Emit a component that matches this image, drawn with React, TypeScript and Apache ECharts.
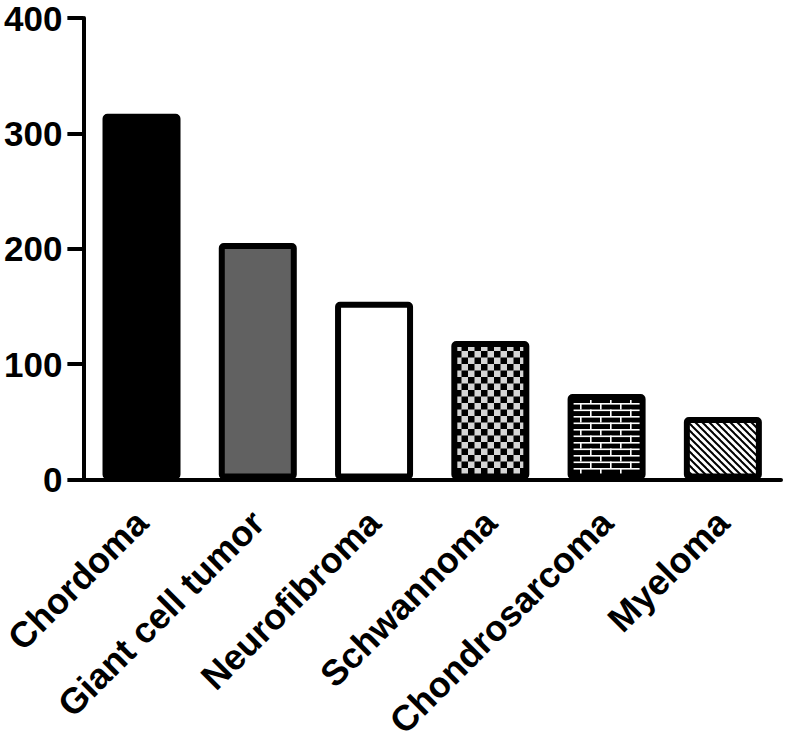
import React, { useEffect, useRef } from "react";
import * as echarts from "echarts";

const categories = ["Chordoma", "Giant cell tumor", "Neurofibroma", "Schwannoma", "Chondrosarcoma", "Myeloma"];
const values = [317, 205, 154, 120, 74, 54];
const yTicks = [0, 100, 200, 300, 400];

function makeCanvas(w: number, h: number, draw: (ctx: CanvasRenderingContext2D) => void) {
  const c = document.createElement("canvas");
  c.width = w;
  c.height = h;
  const ctx = c.getContext("2d")!;
  draw(ctx);
  return c;
}

function checker() {
  return makeCanvas(13, 13, (ctx) => {
    ctx.fillStyle = "#d4d4d4";
    ctx.fillRect(0, 0, 13, 13);
    ctx.fillStyle = "#000";
    ctx.fillRect(0, 0, 6.5, 6.5);
    ctx.fillRect(6.5, 6.5, 6.5, 6.5);
  });
}

function brick() {
  return makeCanvas(20, 13, (ctx) => {
    ctx.fillStyle = "#000";
    ctx.fillRect(0, 0, 20, 13);
    ctx.fillStyle = "#fff";
    ctx.fillRect(0, 0, 20, 1.6);
    ctx.fillRect(0, 6.5, 20, 1.6);
    ctx.fillRect(0, 0, 1.6, 6.5);
    ctx.fillRect(10, 6.5, 1.6, 6.5);
  });
}

function hatch() {
  return makeCanvas(7, 7, (ctx) => {
    ctx.fillStyle = "#fff";
    ctx.fillRect(0, 0, 7, 7);
    ctx.strokeStyle = "#000";
    ctx.lineWidth = 2;
    for (const o of [-7, 0, 7]) {
      ctx.beginPath();
      ctx.moveTo(o - 1, -1);
      ctx.lineTo(o + 8, 8);
      ctx.stroke();
    }
  });
}

export default function App() {
  const ref = useRef<HTMLDivElement>(null);
  useEffect(() => {
    const chart = echarts.init(ref.current!, null, { renderer: "svg" });
    const fills: any[] = [
      "#000000",
      "#616161",
      "#ffffff",
      { image: checker(), repeat: "repeat" },
      { image: brick(), repeat: "repeat" },
      { image: hatch(), repeat: "repeat" },
    ];
    const font = "'Liberation Sans', Arial, sans-serif";
    chart.setOption({
      animation: false,
      grid: { left: 76, right: 6, top: 18, bottom: 255, containLabel: false },
      xAxis: {
        type: "category",
        data: categories,
        axisLine: { lineStyle: { color: "#000", width: 4 } },
        axisTick: { alignWithLabel: true, length: 14, lineStyle: { color: "#000", width: 4 } },
        axisLabel: {
          rotate: 45,
          interval: 0,
          margin: 37,
          color: "#000",
          fontSize: 36,
          fontWeight: "bold",
          fontFamily: font,
        },
      },
      yAxis: {
        type: "value",
        min: 0,
        max: 400,
        interval: 100,
        splitLine: { show: false },
        axisLine: { show: true, lineStyle: { color: "#000", width: 4 } },
        axisTick: { show: true, length: 16, lineStyle: { color: "#000", width: 4 } },
        axisLabel: {
          margin: 21,
          color: "#000",
          fontSize: 35,
          fontWeight: "bold",
          fontFamily: font,
          formatter: (v: number) => (yTicks.includes(v) ? String(v) : ""),
        },
      },
      series: [
        {
          type: "bar",
          barWidth: 78,
          data: values.map((v, i) => ({
            value: v,
            itemStyle: {
              color: fills[i],
              borderColor: "#000",
              borderWidth: 6,
              borderRadius: 2,
            },
          })),
        },
      ],
    });
    return () => chart.dispose();
  }, []);
  return (
    <div
      ref={ref}
      style={{ position: "fixed", left: 0, top: 0, width: 787, height: 742, background: "#fff" }}
    />
  );
}
